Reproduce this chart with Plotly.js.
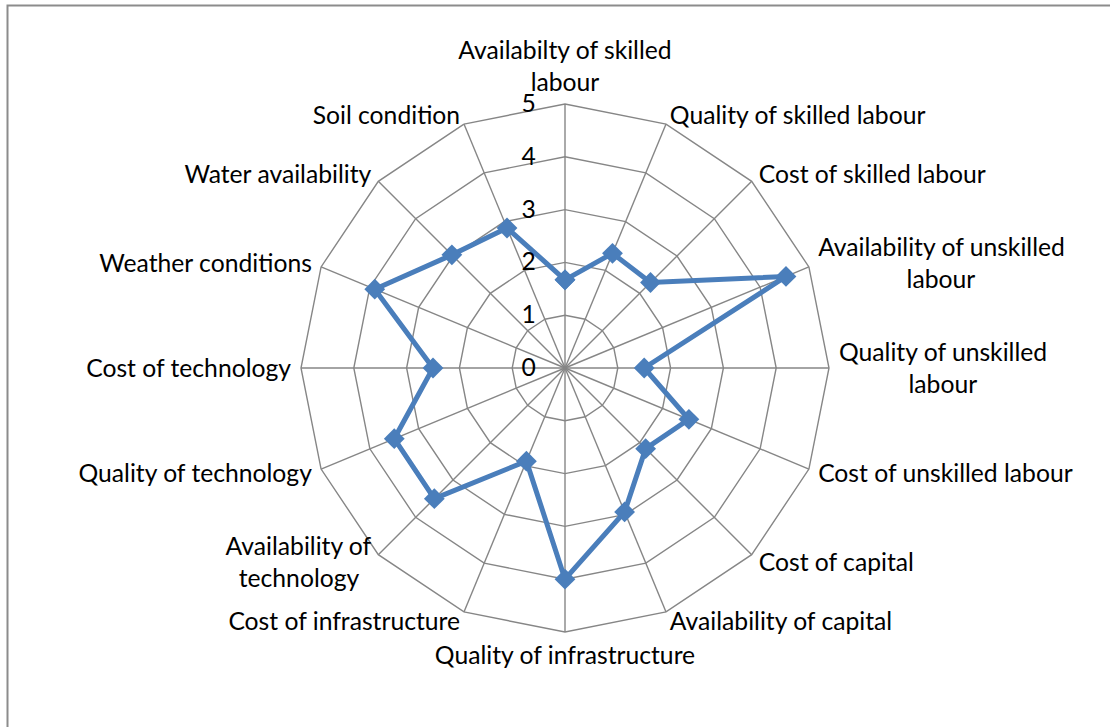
<!DOCTYPE html>
<html>
<head>
<meta charset="utf-8">
<script src="https://cdn.plot.ly/plotly-3.0.1.min.js"></script>
<style>
html, body { margin: 0; padding: 0; background: #fff; }
#chart { width: 1110px; height: 727px; }
</style>
</head>
<body>
<div id="chart"></div>
<script>
var categories = [
  "Availabilty of skilled labour",
  "Quality of skilled labour",
  "Cost of skilled labour",
  "Availability of unskilled labour",
  "Quality of unskilled labour",
  "Cost of unskilled labour",
  "Cost of capital",
  "Availability of capital",
  "Quality of infrastructure",
  "Cost of infrastructure",
  "Availability of technology",
  "Quality of technology",
  "Cost of technology",
  "Weather conditions",
  "Water availability",
  "Soil condition"
];
var categoryLabels = [
  "Availabilty of skilled<br>labour",
  "Quality of skilled labour",
  "Cost of skilled labour",
  "Availability of unskilled<br>&nbsp;&nbsp;&nbsp;&nbsp;&nbsp;&nbsp;&nbsp;&nbsp;&nbsp;&nbsp;&nbsp;&nbsp;&nbsp;&nbsp;labour",
  "Quality of unskilled<br>&nbsp;&nbsp;&nbsp;&nbsp;&nbsp;&nbsp;&nbsp;&nbsp;&nbsp;&nbsp;&nbsp;labour",
  "Cost of unskilled labour",
  "Cost of capital",
  "Availability of capital",
  "Quality of infrastructure",
  "Cost of infrastructure",
  "Availability of<br>technology&nbsp;&nbsp;",
  "Quality of technology",
  "Cost of technology",
  "Weather conditions",
  "Water availability",
  "Soil condition"
];
var scores = [1.67, 2.35, 2.29, 4.53, 1.5, 2.54, 2.16, 2.95, 4.0, 1.91, 3.5, 3.5, 2.5, 3.9, 3.03, 2.87];
var radialTicks = [0, 1, 2, 3, 4, 5];

var W = 1110, H = 727;
var cx = 565, cy = 368, R = 264;
var rMax = 5;
var labelGap = 10;   // px between outer polygon and category labels
var labelDrop = 3;   // small vertical nudge of the label ring
var RL = R + labelGap;
var cyL = cy + labelDrop;

var thetaClosed = categories.concat([categories[0]]);
var rClosed = scores.concat([scores[0]]);

var trace = {
  type: 'scatterpolar',
  r: rClosed,
  theta: thetaClosed,
  mode: 'lines+markers',
  line: { color: '#4A7EBB', width: 5 },
  marker: { symbol: 'diamond', size: 16, color: '#4A7EBB' },
  showlegend: false,
  hoverinfo: 'r+theta',
  subplot: 'polar'
};

var font = "Lato, 'Open Sans', sans-serif";
var fs = 24.7;

// category labels on an invisible ring just outside the outer polygon
var N = categories.length;
var labelR = categories.map(function () { return 1; });
var labelPos = categories.map(function (c, i) {
  var a = i * 360 / N;
  if (a === 0) return 'top center';
  if (a === 180) return 'bottom center';
  return a < 180 ? 'middle right' : 'middle left';
});
var labelTrace = {
  type: 'scatterpolar',
  r: labelR,
  theta: categories,
  mode: 'text',
  text: categoryLabels,
  textposition: labelPos,
  textfont: { family: font, size: fs, color: '#000' },
  cliponaxis: false,
  showlegend: false,
  hoverinfo: 'skip',
  subplot: 'polar2'
};

var layout = {
  width: W,
  height: H,
  margin: { l: 0, r: 0, t: 0, b: 0 },
  paper_bgcolor: '#ffffff',
  plot_bgcolor: '#ffffff',
  font: { family: font, size: fs, color: '#000000' },
  showlegend: false,
  polar: {
    domain: { x: [(cx - R) / W, (cx + R) / W], y: [1 - (cy + R) / H, 1 - (cy - R) / H] },
    gridshape: 'linear',
    bgcolor: '#ffffff',
    radialaxis: {
      range: [0, rMax],
      autorange: false,
      tickvals: radialTicks,
      ticktext: radialTicks.map(String),
      angle: 90,
      tickangle: 90,
      side: 'counterclockwise',
      showline: false,
      ticks: 'outside',
      ticklen: 20,
      tickcolor: 'rgba(0,0,0,0)',
      gridcolor: '#868686',
      gridwidth: 1.4,
      tickfont: { family: font, size: fs, color: '#000' }
    },
    angularaxis: {
      direction: 'clockwise',
      rotation: 90,
      type: 'category',
      categoryarray: categories,
      linecolor: '#868686',
      linewidth: 1.4,
      gridcolor: '#868686',
      gridwidth: 1.4,
      ticks: '',
      showticklabels: false
    }
  },
  polar2: {
    domain: { x: [(cx - RL) / W, (cx + RL) / W], y: [1 - (cyL + RL) / H, 1 - (cyL - RL) / H] },
    gridshape: 'linear',
    bgcolor: 'rgba(0,0,0,0)',
    radialaxis: {
      range: [0, 1],
      autorange: false,
      visible: false,
      showgrid: false,
      showline: false,
      showticklabels: false,
      ticks: ''
    },
    angularaxis: {
      direction: 'clockwise',
      rotation: 90,
      type: 'category',
      categoryarray: categories,
      showgrid: false,
      showline: false,
      showticklabels: false,
      ticks: ''
    }
  },
  shapes: [{
    type: 'rect', xref: 'paper', yref: 'paper',
    x0: 7.5 / W, x1: 1.2, y0: -0.2, y1: 1 - 5.5 / H,
    line: { color: '#8c8c8c', width: 2 }
  }]
};

Plotly.newPlot('chart', [trace, labelTrace], layout, { displayModeBar: false, staticPlot: true });
</script>
</body>
</html>
